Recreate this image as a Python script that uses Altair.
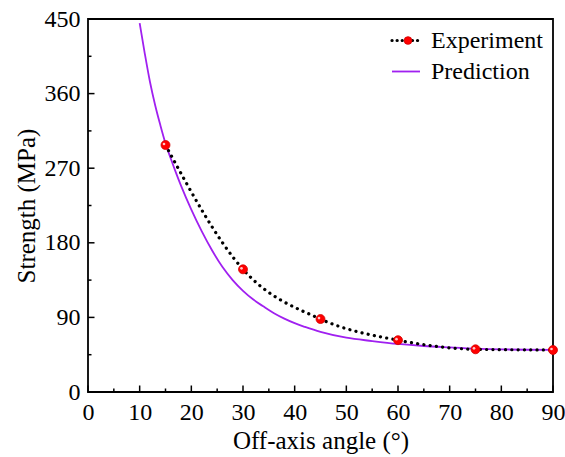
import altair as alt
import pandas as pd

# Measured off-axis strength
angle_exp = [15, 30, 45, 60, 75, 90]
strength_exp = [298, 148, 88, 62.5, 51.5, 50.7]

# Model prediction
angle_pred = [10, 11, 12, 13, 14, 15, 16, 17, 18, 20, 22, 24, 26, 28, 30, 32,
              34, 36, 38, 40, 42, 45, 50, 55, 60, 65, 70, 75, 80, 85, 90]
strength_pred = [445, 408, 374, 346, 322, 300, 282, 265, 249, 220, 194, 171,
                 151, 135, 122, 111.5, 103, 95, 88.5, 83, 78.5, 72.5, 65.5,
                 61.5, 58, 55.5, 53.8, 52.3, 51.4, 51, 50.7]

series_names = ["Experiment", "Prediction"]

x_major = [0, 10, 20, 30, 40, 50, 60, 70, 80, 90]
x_minor = [5, 15, 25, 35, 45, 55, 65, 75, 85]
y_major = [0, 90, 180, 270, 360, 450]
y_minor = [45, 135, 225, 315, 405]

W, H = 465, 373
FONT = "Liberation Serif"
PURPLE = "#A020F0"

exp_df = pd.DataFrame({"angle": angle_exp, "strength": strength_exp})
pred_df = pd.DataFrame({"angle": angle_pred, "strength": strength_pred})

x_scale = alt.Scale(domain=[0, 90], nice=False, zero=False)
y_scale = alt.Scale(domain=[0, 450], nice=False, zero=False)

x_axis = alt.Axis(values=x_major, title="Off-axis angle (°)", labelFlush=False,
                  labelPadding=8, titlePadding=4)
y_axis = alt.Axis(values=y_major, title="Strength (MPa)", labelFlush=False,
                  labelPadding=8, titlePadding=5)


def xq(field):
    return alt.X(field, type="quantitative", scale=x_scale, axis=x_axis)


def yq(field):
    return alt.Y(field, type="quantitative", scale=y_scale, axis=y_axis)


pred_line = alt.Chart(pred_df).mark_line(
    color=PURPLE, strokeWidth=1.8, interpolate="monotone"
).encode(x=xq("angle"), y=yq("strength"))

exp_line = alt.Chart(exp_df).mark_line(
    color="black", strokeWidth=3.2, strokeDash=[0.1, 6.2], strokeCap="round",
    interpolate="monotone"
).encode(x=xq("angle"), y=yq("strength"))

exp_pts = alt.Chart(exp_df).mark_circle(
    color="#FF0000", size=80, opacity=1, stroke="#D00000", strokeWidth=0.8
).encode(x=xq("angle"), y=yq("strength"))

exp_glint = alt.Chart(exp_df).mark_circle(
    color="#FFC8C8", size=7, opacity=1, xOffset=-1.5, yOffset=-1
).encode(x=xq("angle"), y=yq("strength"))


# Inward tick marks
def xticks(vals, length):
    return alt.Chart(pd.DataFrame({"angle": vals})).mark_rule(
        color="black", strokeWidth=1.5
    ).encode(x=xq("angle"), y=alt.value(H), y2=alt.value(H - length))


def yticks(vals, length):
    return alt.Chart(pd.DataFrame({"strength": vals})).mark_rule(
        color="black", strokeWidth=1.5
    ).encode(y=yq("strength"), x=alt.value(0), x2=alt.value(length))


ticks = [xticks(x_major, 6.5), xticks(x_minor, 3.5),
         yticks(y_major, 6.5), yticks(y_minor, 3.5)]

# Legend
LX0, LX1, LY0, LGAP, LTX = 304, 332, 21.5, 31, 343
one = pd.DataFrame({"k": [0]})

leg_dots = alt.Chart(one).mark_rule(
    color="black", strokeWidth=3.2, strokeDash=[0.1, 5], strokeCap="round"
).encode(x=alt.value(LX0), x2=alt.value(LX1), y=alt.value(LY0))
leg_ball = alt.Chart(one).mark_circle(
    color="#FF0000", size=60, opacity=1, stroke="#D00000", strokeWidth=0.8
).encode(x=alt.value((LX0 + LX1) / 2 + 2), y=alt.value(LY0))
leg_line = alt.Chart(one).mark_rule(
    color=PURPLE, strokeWidth=1.8
).encode(x=alt.value(LX0), x2=alt.value(LX1), y=alt.value(LY0 + LGAP))
leg_texts = [
    alt.Chart(one).mark_text(
        align="left", baseline="middle", font=FONT, fontSize=24,
        color="black", text=name
    ).encode(x=alt.value(LTX), y=alt.value(LY0 + i * LGAP))
    for i, name in enumerate(series_names)
]

chart = alt.layer(
    pred_line, exp_line, exp_pts, exp_glint, *ticks,
    leg_dots, leg_ball, leg_line, *leg_texts
).properties(
    width=W, height=H,
    autosize=alt.AutoSizeParams(type="none"),
    padding={"left": 88, "top": 19, "right": 12, "bottom": 65},
).configure_view(
    stroke="black", strokeWidth=1.8
).configure_axis(
    ticks=False, domain=False, grid=False,
    labelFont=FONT, labelFontSize=24, labelColor="black",
    titleFont=FONT, titleFontSize=25, titleColor="black", titleFontWeight="normal",
)

chart.save("out.html", embed_options={"renderer": "svg", "actions": False})
